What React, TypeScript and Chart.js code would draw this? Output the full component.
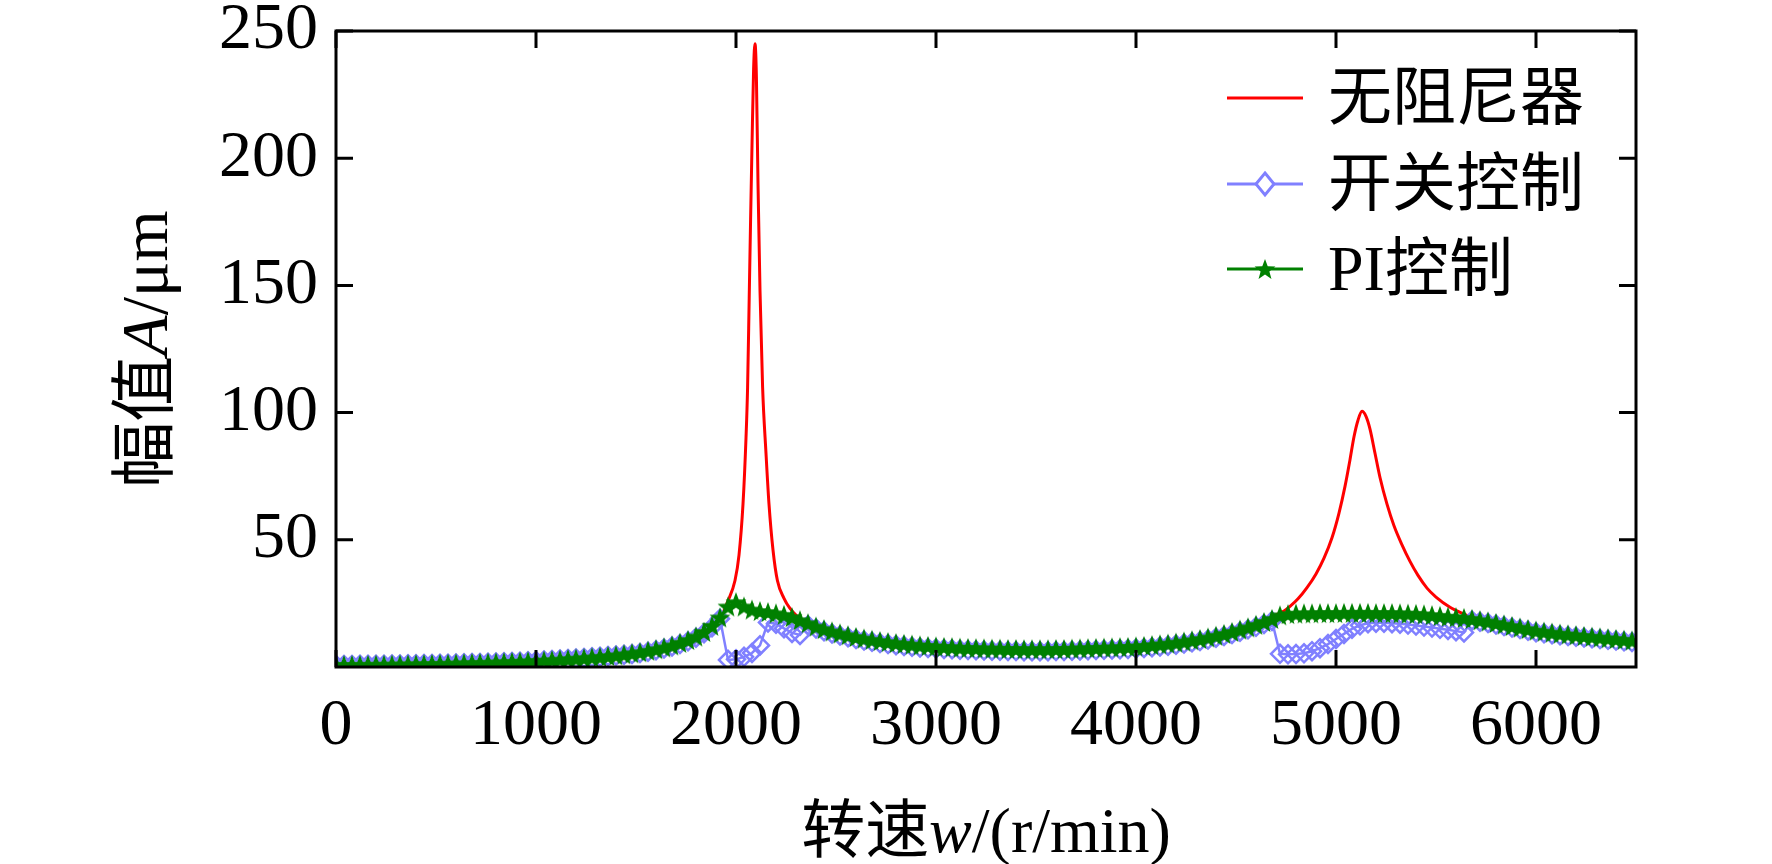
import { useEffect, useRef } from 'react'
import Chart from 'chart.js/auto'

// rotor speed grid of the two controlled runs (r/min)
const speeds = [
  0, 40, 80, 120, 160, 200, 240, 280, 320, 360,
  400, 440, 480, 520, 560, 600, 640, 680, 720, 760,
  800, 840, 880, 920, 960, 1000, 1040, 1080, 1120, 1160,
  1200, 1240, 1280, 1320, 1360, 1400, 1440, 1480, 1520, 1560,
  1600, 1640, 1680, 1720, 1760, 1800, 1840, 1880, 1920, 1960,
  2000, 2040, 2080, 2120, 2160, 2200, 2240, 2280, 2320, 2360,
  2400, 2440, 2480, 2520, 2560, 2600, 2640, 2680, 2720, 2760,
  2800, 2840, 2880, 2920, 2960, 3000, 3040, 3080, 3120, 3160,
  3200, 3240, 3280, 3320, 3360, 3400, 3440, 3480, 3520, 3560,
  3600, 3640, 3680, 3720, 3760, 3800, 3840, 3880, 3920, 3960,
  4000, 4040, 4080, 4120, 4160, 4200, 4240, 4280, 4320, 4360,
  4400, 4440, 4480, 4520, 4560, 4600, 4640, 4680, 4720, 4760,
  4800, 4840, 4880, 4920, 4960, 5000, 5040, 5080, 5120, 5160,
  5200, 5240, 5280, 5320, 5360, 5400, 5440, 5480, 5520, 5560,
  5600, 5640, 5680, 5720, 5760, 5800, 5840, 5880, 5920, 5960,
  6000, 6040, 6080, 6120, 6160, 6200, 6240, 6280, 6320, 6360,
  6400, 6440, 6480
]

// PI控制 amplitude (μm)
const piControl = [
  0.8, 0.8, 0.8, 0.85, 0.85, 0.9, 0.9, 0.95, 1.0, 1.05,
  1.1, 1.15, 1.2, 1.25, 1.3, 1.4, 1.45, 1.55, 1.6, 1.7,
  1.8, 1.9, 2.0, 2.1, 2.25, 2.4, 2.55, 2.7, 2.9, 3.1,
  3.3, 3.5, 3.8, 4.0, 4.3, 4.6, 5.0, 5.4, 5.8, 6.4,
  7.0, 7.7, 8.5, 9.5, 10.6, 12.0, 13.8, 16.2, 19.5, 23.8,
  25.5, 23.8, 22.6, 22.0, 21.6, 21.1, 20.5, 19.6, 18.4, 17.2,
  15.9, 14.9, 14.0, 13.2, 12.5, 11.8, 11.2, 10.7, 10.2, 9.8,
  9.4, 9.1, 8.8, 8.5, 8.3, 8.1, 7.9, 7.8, 7.6, 7.5,
  7.4, 7.3, 7.2, 7.2, 7.1, 7.1, 7.0, 7.0, 7.0, 7.0,
  7.1, 7.1, 7.2, 7.3, 7.4, 7.5, 7.6, 7.7, 7.8, 7.9,
  8.1, 8.3, 8.6, 8.9, 9.2, 9.6, 10.0, 10.5, 11.0, 11.6,
  12.3, 13.0, 13.8, 14.7, 15.6, 16.6, 17.7, 18.9, 20.3, 20.8,
  21.0, 21.1, 21.1, 21.2, 21.2, 21.2, 21.3, 21.3, 21.3, 21.3,
  21.2, 21.2, 21.2, 21.1, 21.0, 20.9, 20.7, 20.4, 20.1, 19.8,
  19.6, 19.3, 18.9, 18.4, 17.9, 17.3, 16.7, 16.1, 15.5, 14.9,
  14.3, 13.9, 13.5, 13.1, 12.8, 12.5, 12.2, 11.9, 11.6, 11.3,
  11.0, 10.7, 10.4
]

// 开关控制 amplitude (μm)
const switchControl = [
  0.8, 0.8, 0.8, 0.85, 0.85, 0.9, 0.9, 0.95, 1.0, 1.05,
  1.1, 1.15, 1.2, 1.25, 1.3, 1.4, 1.45, 1.55, 1.6, 1.7,
  1.8, 1.9, 2.0, 2.1, 2.25, 2.4, 2.55, 2.7, 2.9, 3.1,
  3.3, 3.5, 3.8, 4.0, 4.3, 4.5, 4.8, 5.1, 5.5, 6.0,
  6.6, 7.3, 8.1, 9.0, 10.1, 11.5, 13.3, 15.6, 19.0, 2.8,
  3.0, 4.0, 5.5, 8.5, 17.5, 17.0, 15.2, 13.4, 12.6, 16.4,
  15.1, 14.1, 13.2, 12.4, 11.7, 11.0, 10.4, 9.9, 9.4, 9.0,
  8.6, 8.3, 8.0, 7.7, 7.5, 7.3, 7.1, 7.0, 6.8, 6.7,
  6.6, 6.5, 6.4, 6.4, 6.3, 6.3, 6.2, 6.2, 6.2, 6.2,
  6.3, 6.3, 6.4, 6.5, 6.6, 6.7, 6.8, 6.9, 7.0, 7.1,
  7.3, 7.5, 7.8, 8.1, 8.4, 8.8, 9.2, 9.7, 10.2, 10.8,
  11.5, 12.2, 13.0, 13.9, 14.8, 15.8, 16.9, 18.1, 5.2, 5.0,
  5.1, 5.4, 6.2, 7.4, 9.0, 11.0, 13.0, 15.0, 16.4, 17.2,
  17.4, 17.4, 17.2, 17.0, 16.7, 16.3, 15.9, 15.5, 15.0, 14.6,
  14.1, 13.6, 18.3, 17.8, 17.3, 16.7, 16.1, 15.5, 14.9, 14.3,
  13.7, 13.3, 12.9, 12.5, 12.2, 11.9, 11.6, 11.3, 11.0, 10.7,
  10.4, 10.1, 9.8
]

// 无阻尼器: sampled more densely around the two critical speeds
const noDamperSpeeds = [
  0, 400, 800, 1200, 1400, 1600, 1700, 1800, 1880, 1920,
  1960, 1995, 2015, 2035, 2050, 2058, 2066, 2073, 2080, 2088,
  2095, 2102, 2110, 2120, 2133, 2150, 2165, 2185, 2207, 2240,
  2270, 2305, 2360, 2400, 2600, 2800, 3000, 3400, 3800, 4000,
  4200, 4400, 4600, 4700, 4740, 4770, 4810, 4855, 4900, 4940,
  4980, 5015, 5045, 5070, 5090, 5110, 5130, 5150, 5170, 5195,
  5220, 5255, 5290, 5330, 5370, 5410, 5455, 5500, 5570, 5635,
  5700, 5800, 6000, 6200, 6480
]
const noDamper = [
  0.8, 1.1, 1.8, 3.3, 4.6, 7.0, 8.6, 11.5, 15.5, 19,
  26, 34, 44, 64, 90, 110, 145, 176, 205, 235,
  245, 232, 190, 148, 110, 84, 64, 46, 34, 27,
  23, 20, 17.2, 15.9, 11.8, 9.4, 8.1, 7.1, 7.5, 8.1,
  9.6, 12.3, 16.6, 20.5, 22, 23.8, 26.8, 31.2, 36.6, 42.8,
  50.8, 60.5, 71, 81.5, 90.5, 97, 100.5, 98.5, 93.5, 84,
  74.5, 64, 55.5, 48, 41.5, 36, 31, 27.5, 23.5, 21,
  19, 17.3, 14.3, 12.5, 10.4
]

const xTicks = [0, 1000, 2000, 3000, 4000, 5000, 6000]
const yTicks = [50, 100, 150, 200, 250]
const legendLabels = ['无阻尼器', '开关控制', 'PI控制']

const RED = '#ff0000'
const BLUE = '#8080ff'
const GREEN = '#008000'
const SERIF = '"Liberation Serif", "Times New Roman", serif'
const MIXED = '"Liberation Serif", "Noto Sans CJK SC", serif'

function makeStar(r: number, color: string) {
  const c = document.createElement('canvas')
  const s = Math.ceil(r * 2 + 2)
  c.width = s
  c.height = s
  const ctx = c.getContext('2d')!
  ctx.translate(s / 2, s / 2 + r * 0.09)
  ctx.beginPath()
  for (let i = 0; i < 10; i++) {
    const rad = i % 2 === 0 ? r : r * 0.42
    const a = -Math.PI / 2 + (i * Math.PI) / 5
    ctx.lineTo(Math.cos(a) * rad, Math.sin(a) * rad)
  }
  ctx.closePath()
  ctx.fillStyle = color
  ctx.fill()
  return c
}

type Part = { text: string; font: string }

function drawParts(ctx: CanvasRenderingContext2D, parts: Part[], x: number, y: number) {
  let total = 0
  for (const p of parts) {
    ctx.font = p.font
    total += ctx.measureText(p.text).width
  }
  let cx = x - total / 2
  ctx.textAlign = 'left'
  ctx.textBaseline = 'middle'
  for (const p of parts) {
    ctx.font = p.font
    ctx.fillText(p.text, cx, y)
    cx += ctx.measureText(p.text).width
  }
}

export default function App() {
  const chartContainer = useRef<HTMLCanvasElement>(null)

  useEffect(() => {
    if (!chartContainer.current) return
    const star = makeStar(11, GREEN)

    const frame = {
      id: 'frame',
      afterDraw(chart: Chart) {
        const { ctx, chartArea: a } = chart
        const xs = chart.scales.x
        const ys = chart.scales.y
        const tl = 17
        ctx.save()
        ctx.strokeStyle = '#000'
        ctx.lineWidth = 3
        ctx.beginPath()
        for (const v of xTicks) {
          const px = xs.getPixelForValue(v)
          ctx.moveTo(px, a.bottom)
          ctx.lineTo(px, a.bottom - tl)
          ctx.moveTo(px, a.top)
          ctx.lineTo(px, a.top + tl)
        }
        for (const v of yTicks) {
          const py = ys.getPixelForValue(v)
          ctx.moveTo(a.left, py)
          ctx.lineTo(a.left + tl, py)
          ctx.moveTo(a.right, py)
          ctx.lineTo(a.right - tl, py)
        }
        ctx.stroke()
        ctx.strokeRect(a.left, a.top, a.right - a.left, a.bottom - a.top)

        // axis titles
        ctx.fillStyle = '#000'
        drawParts(ctx, [
          { text: '转速', font: `64px ${MIXED}` },
          { text: 'w', font: `italic 64px ${SERIF}` },
          { text: '/(r/min)', font: `64px ${SERIF}` }
        ], (a.left + a.right) / 2, 835)
        ctx.save()
        ctx.translate(150, (a.top + a.bottom) / 2)
        ctx.rotate(-Math.PI / 2)
        drawParts(ctx, [
          { text: '幅值', font: `66px ${MIXED}` },
          { text: 'A', font: `italic 66px ${SERIF}` },
          { text: '/μm', font: `66px ${SERIF}` }
        ], 0, 0)
        ctx.restore()

        // legend
        const rows = [98, 184, 269]
        const colors = [RED, BLUE, GREEN]
        const x0 = 1227
        const x1 = 1303
        const mx = (x0 + x1) / 2
        rows.forEach((ry, i) => {
          ctx.strokeStyle = colors[i]
          ctx.lineWidth = 3
          ctx.beginPath()
          ctx.moveTo(x0, ry)
          ctx.lineTo(x1, ry)
          ctx.stroke()
          if (i === 1) {
            ctx.fillStyle = '#fff'
            ctx.beginPath()
            ctx.moveTo(mx, ry - 11)
            ctx.lineTo(mx + 9, ry)
            ctx.lineTo(mx, ry + 11)
            ctx.lineTo(mx - 9, ry)
            ctx.closePath()
            ctx.fill()
            ctx.stroke()
          }
          if (i === 2) {
            ctx.drawImage(star, mx - star.width / 2, ry - star.height / 2)
          }
          ctx.fillStyle = '#000'
          ctx.font = `64px ${MIXED}`
          ctx.textAlign = 'left'
          ctx.textBaseline = 'middle'
          ctx.fillText(legendLabels[i], 1328, ry + 4)
        })
        ctx.restore()
      }
    }

    const chart = new Chart(chartContainer.current, {
      type: 'line',
      data: {
        datasets: [
          {
            label: legendLabels[0],
            data: noDamperSpeeds.map((x, i) => ({ x, y: noDamper[i] })),
            borderColor: RED,
            borderWidth: 3,
            pointRadius: 0,
            cubicInterpolationMode: 'monotone',
            order: 3
          },
          {
            label: legendLabels[1],
            data: speeds.map((x, i) => ({ x, y: switchControl[i] })),
            borderColor: BLUE,
            borderWidth: 2.5,
            pointStyle: 'rectRot',
            pointRadius: 9,
            pointBorderWidth: 2.5,
            pointBorderColor: BLUE,
            pointBackgroundColor: 'rgba(0,0,0,0)',
            order: 2
          },
          {
            label: legendLabels[2],
            data: speeds.map((x, i) => ({ x, y: piControl[i] })),
            borderColor: GREEN,
            borderWidth: 3,
            pointStyle: star,
            pointRadius: 11,
            order: 1
          }
        ]
      },
      options: {
        animation: false,
        responsive: true,
        maintainAspectRatio: false,
        layout: { padding: { top: 31, right: 136, bottom: 0, left: 0 } },
        plugins: {
          legend: { display: false },
          tooltip: { enabled: false }
        },
        scales: {
          x: {
            type: 'linear',
            min: 0,
            max: 6500,
            afterBuildTicks: (s: any) => {
              s.ticks = xTicks.map((value) => ({ value }))
            },
            afterFit: (s: any) => {
              s.height = 197
            },
            ticks: {
              callback: (v: any) => String(v),
              font: { family: SERIF, size: 66, lineHeight: 1 },
              color: '#000',
              padding: 27,
              maxRotation: 0,
              autoSkip: false
            },
            grid: { display: false, drawTicks: false },
            border: { display: false }
          },
          y: {
            type: 'linear',
            min: 0,
            max: 250,
            afterBuildTicks: (s: any) => {
              s.ticks = yTicks.map((value) => ({ value }))
            },
            afterFit: (s: any) => {
              s.width = 336
            },
            ticks: {
              callback: (v: any) => String(v),
              // small line height keeps the top label from pushing the plot down
              font: { family: SERIF, size: 66, lineHeight: 0.3 },
              color: '#000',
              padding: 18,
              autoSkip: false
            },
            grid: { display: false, drawTicks: false },
            border: { display: false }
          }
        }
      },
      plugins: [frame]
    })

    return () => {
      chart.destroy()
    }
  }, [])

  return (
    <div style={{ position: 'absolute', left: 0, top: 0, width: 1772, height: 864, background: '#fff' }}>
      <canvas ref={chartContainer}></canvas>
    </div>
  )
}
